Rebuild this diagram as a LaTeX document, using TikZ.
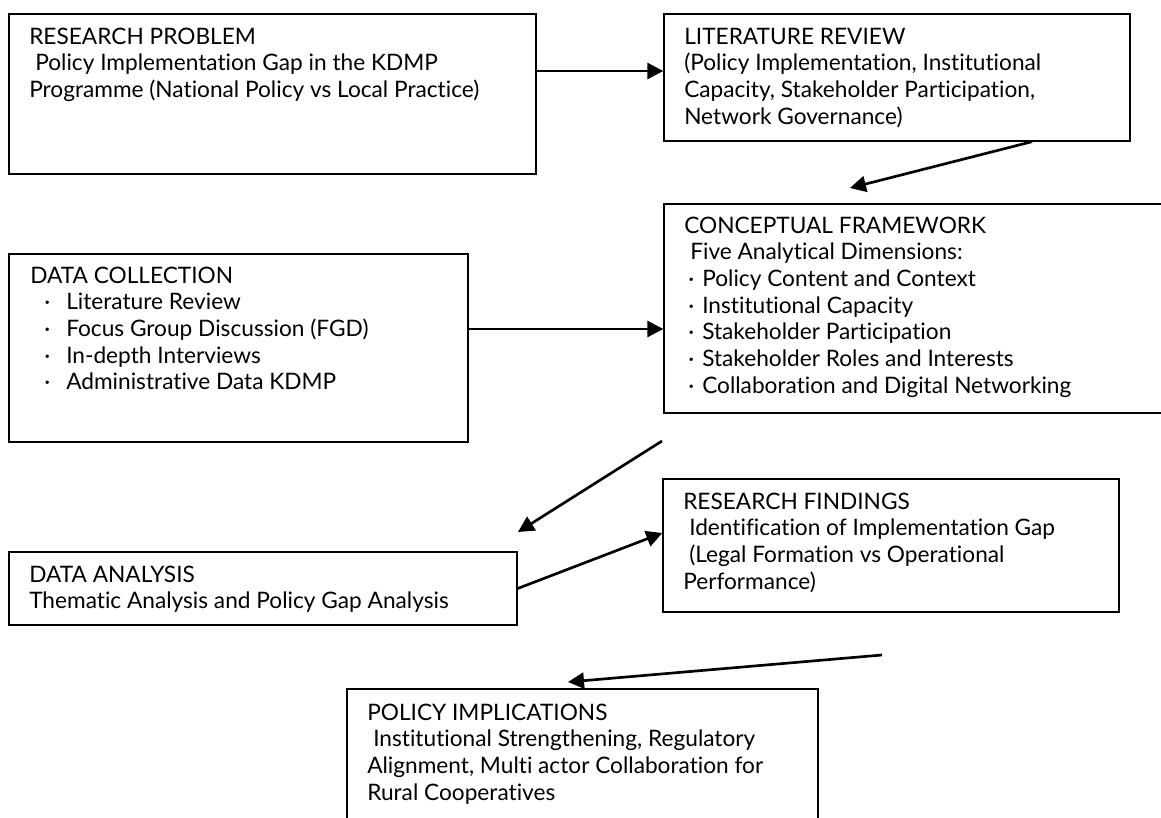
\documentclass[tikz,border=0pt]{standalone}
\usepackage{fontspec}
\setmainfont{Lato}[Ligatures=NoCommon]
\usetikzlibrary{arrows.meta,fit}
\newcommand{\fl}{\rule{0pt}{17pt}}
\newcommand{\ls}{\hspace{4.5pt}}
\newcommand{\dcb}{\hspace{10.5pt}\makebox[16.5pt][l]{\textperiodcentered}}
\newcommand{\cfb}{\hspace{3pt}\makebox[10.5pt][l]{\textperiodcentered}}
\begin{document}
\begin{tikzpicture}[x=0.75pt,y=-0.75pt,
  box/.style={draw=black, line width=1pt, inner sep=0pt},
  txt/.style={anchor=north west, inner sep=0pt, align=left, font=\fontsize{17pt}{20pt}\selectfont},
  arr/.style={line width=2pt, -{Triangle[length=12pt,width=12pt]}}]
\useasboundingbox (0,0) rectangle (1161,818);
\fill[white] (0,0) rectangle (1161,818);

% boxes
\node[box, fit={(9,14) (536,174)}] (rp) {};
\node[box, fit={(664,14) (1130,141)}] (lr) {};
\node[box, fit={(664,204) (1175,413)}] (cf) {};
\node[box, fit={(9,254) (468,442)}] (dc) {};
\node[box, fit={(9,552) (517,625)}] (da) {};
\node[box, fit={(663,479) (1119,612)}] (rf) {};
\node[box, fit={(347,689) (818,835)}] (pi) {};

% texts
\node[txt] (rpt) at (29,21.3) {\fl RESEARCH PROBLEM\\ \ls Policy Implementation Gap in the KDMP\\ Programme (National Policy vs Local Practice)};
\node[txt] (lrt) at (684,21.3) {\fl LITERATURE REVIEW\\ (Policy Implementation, Institutional\\ Capacity, Stakeholder Participation,\\ Network Governance)};
\node[txt] (cft) at (684,210.3) {\fl CONCEPTUAL FRAMEWORK\\ \ls Five Analytical Dimensions:\\ \cfb Policy Content and Context\\ \cfb Institutional Capacity\\ \cfb Stakeholder Participation\\ \cfb Stakeholder Roles and Interests\\ \cfb Collaboration and Digital Networking};
\node[txt] (dct) at (30,260.3) {\fl DATA COLLECTION\\ \dcb Literature Review\\ \dcb Focus Group Discussion (FGD)\\ \dcb In-depth Interviews\\ \dcb Administrative Data KDMP};
\node[txt] (dat) at (29,559.3) {\fl DATA ANALYSIS\\ Thematic Analysis and Policy Gap Analysis};
\node[txt] (rft) at (683,486.3) {\fl RESEARCH FINDINGS\\ \ls Identification of Implementation Gap\\ \ls (Legal Formation vs Operational\\ Performance)};
\node[txt] (pit) at (367,697.3) {\fl POLICY IMPLICATIONS\\ \ls Institutional Strengthening, Regulatory\\ Alignment, Multi actor Collaboration for\\ Rural Cooperatives};

% free ends
\coordinate (a2e) at (850,188);
\coordinate (a4s) at (662,441);
\coordinate (a4e) at (518,532);
\coordinate (a6s) at (882,655);
\coordinate (a6e) at (568,682);

% connectors
\draw[arr] (rp.east |- 0,71) -- (lr.west |- 0,71);
\draw[arr] (lr.south -| 1032,0) -- (a2e);
\draw[arr] (dc.east |- 0,329) -- (cf.west |- 0,329);
\draw[arr] (a4s) -- (a4e);
\draw[arr] (da.east) -- (rf.west |- 0,533);
\draw[arr] (a6s) -- (a6e);
\end{tikzpicture}
\end{document}
